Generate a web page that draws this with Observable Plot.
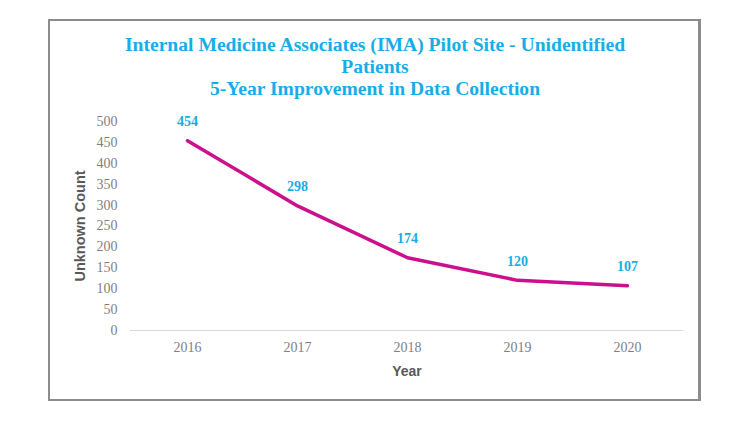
<!DOCTYPE html>
<html>
<head>
<meta charset="utf-8">
<script src="https://cdn.jsdelivr.net/npm/d3@7"></script>
<script src="https://cdn.jsdelivr.net/npm/@observablehq/plot@0.6"></script>
<style>
  html, body { margin: 0; padding: 0; background: #fff; }
  #wrap { position: relative; width: 750px; height: 422px; overflow: hidden; }
  #frame {
    position: absolute; left: 48px; top: 19px; width: 653px; height: 382px;
    box-sizing: border-box; border: 2px solid #8c8c8c;
    border-right-width: 3px; border-bottom-width: 2px;
  }
  #title {
    position: absolute; left: 49px; width: 652px; top: 34px;
    text-align: center; font-family: "Liberation Serif", "Times New Roman", serif;
    font-weight: bold; font-size: 19.6px; line-height: 22px; color: #17ade8;
  }
  #chart { position: absolute; left: 0; top: 0; }
</style>
</head>
<body>
<div id="wrap">
  <div id="frame"></div>
  <div id="chart"></div>
  <div id="title">Internal Medicine Associates (IMA) Pilot Site - Unidentified<br>Patients<br>5-Year Improvement in Data Collection</div>
</div>
<script>
const years = ["2016", "2017", "2018", "2019", "2020"];
const counts = [454, 298, 174, 120, 107];
const yTicks = [0, 50, 100, 150, 200, 250, 300, 350, 400, 450, 500];

const data = years.map((y, i) => ({year: y, count: counts[i]}));

const chart = Plot.plot({
  width: 750,
  height: 422,
  marginLeft: 130,
  marginRight: 67,
  marginTop: 121,
  marginBottom: 92,
  style: {background: "transparent", overflow: "visible"},
  x: {type: "band", domain: years, padding: 0, label: null},
  y: {domain: [0, 500], label: null},
  marks: [
    Plot.ruleY([0], {stroke: "#d9d9d9", strokeWidth: 1.2}),
    Plot.axisX({
      tickSize: 0, tickPadding: 12, label: null,
      fontFamily: "Liberation Serif", fontSize: 14, fill: "#7f7f7f"
    }),
    Plot.axisY({
      ticks: yTicks, tickSize: 0, tickPadding: 13, label: null,
      fontFamily: "Liberation Serif", fontSize: 14, fill: "#7f7f7f"
    }),
    Plot.text(["Year"], {
      frameAnchor: "bottom", dy: 45, fontFamily: "Liberation Sans", fontWeight: "bold",
      fontSize: 14, fill: "#595959"
    }),
    Plot.text(["Unknown Count"], {
      frameAnchor: "left", textAnchor: "middle", dx: -50, rotate: -90, fontFamily: "Liberation Sans",
      fontWeight: "bold", fontSize: 14.5, fill: "#595959"
    }),
    Plot.line(data, {x: "year", y: "count", stroke: "#cc0f8c", strokeWidth: 3.5, strokeLinejoin: "round"}),
    Plot.text(data, {
      x: "year", y: "count", text: d => String(d.count), dy: -19,
      fontFamily: "Liberation Serif", fontWeight: "bold", fontSize: 14, fill: "#17ade8"
    })
  ]
});
document.getElementById("chart").appendChild(chart);
</script>
</body>
</html>
